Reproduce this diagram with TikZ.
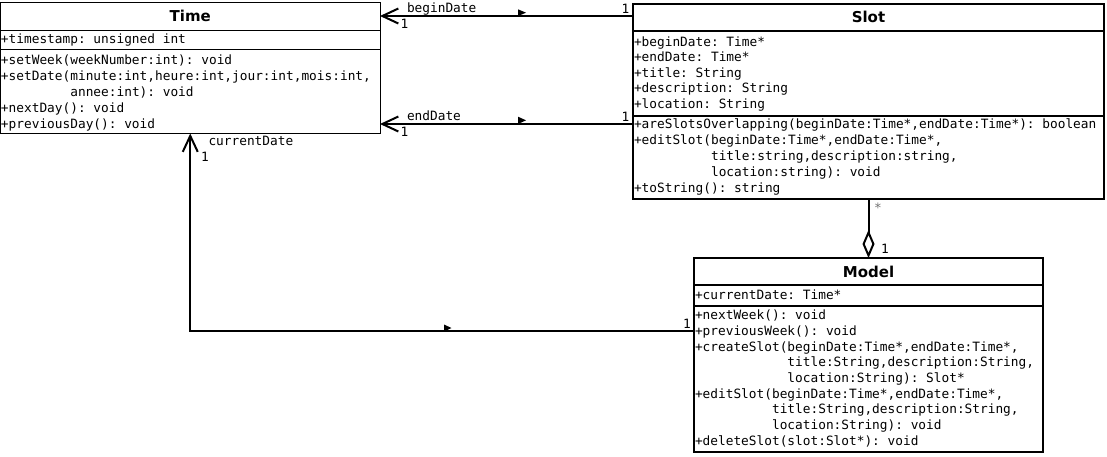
\documentclass[tikz,border=0pt]{standalone}
\usepackage{fontspec}
\setmonofont{DejaVu Sans Mono}
\newfontfamily\ttlfont{DejaVu Sans}
\usetikzlibrary{arrows.meta}
\begin{document}
\begin{tikzpicture}[x=1pt,y=-1pt,
  body/.style={anchor=base west, inner sep=0pt, outer sep=0pt, font=\ttfamily\fontsize{12.8}{15}\selectfont},
  ttl/.style={anchor=base, inner sep=0pt, outer sep=0pt, font=\ttlfont\bfseries\fontsize{15}{18}\selectfont},
  cls/.style={draw, anchor=north west, inner sep=0pt, outer sep=0pt},
  conn/.style={line width=2pt},
  sep/.style={line width=1pt},
  sepb/.style={line width=2pt},
  open tip/.style={-{Straight Barb[length=16pt,width=15pt]}},
  agg tip/.style={-{Diamond[open,length=28pt,width=12pt]}},
  dirmark/.style={fill=black}]
\useasboundingbox (0,0) rectangle (1107,456);
\fill[white] (0,0) rectangle (1107,456);

% ---------- Time ----------
\node[cls, line width=1pt, minimum width=379.5pt, minimum height=131pt] (time) at (0.5,2.5) {};
\draw[sep] (0.5,30) -- (380,30);
\draw[sep] (0.5,49) -- (380,49);
\node[ttl] (timeT) at (190.25,21) {Time};
\node[body] (time1) at (1,43) {+timestamp: unsigned int};
\node[body] (time2) at (1,64) {+setWeek(weekNumber:int): void};
\node[body] (time3) at (1,80) {+setDate(minute:int,heure:int,jour:int,mois:int,};
\node[body] (time4) at (1,96) {\hphantom{+setDate(}annee:int): void};
\node[body] (time5) at (1,112) {+nextDay(): void};
\node[body] (time6) at (1,128) {+previousDay(): void};

% ---------- Slot ----------
\node[cls, line width=2pt, minimum width=471pt, minimum height=195pt] (slot) at (633,3.5) {};
\draw[sepb] (633,31) -- (1104,31);
\draw[sepb] (633,116) -- (1104,116);
\node[ttl] (slotT) at (868.5,22) {Slot};
\node[body] (slot1) at (634,46) {+beginDate: Time*};
\node[body] (slot2) at (634,61.6) {+endDate: Time*};
\node[body] (slot3) at (634,77.2) {+title: String};
\node[body] (slot4) at (634,92.8) {+description: String};
\node[body] (slot5) at (634,108.4) {+location: String};
\node[body] (slot6) at (634,128) {+areSlotsOverlapping(beginDate:Time*,endDate:Time*): boolean};
\node[body] (slot7) at (634,144) {+editSlot(beginDate:Time*,endDate:Time*,};
\node[body] (slot8) at (634,160) {\hphantom{+editSlot(}title:string,description:string,};
\node[body] (slot9) at (634,176) {\hphantom{+editSlot(}location:string): void};
\node[body] (slot10) at (634,192) {+toString(): string};

% ---------- Model ----------
\node[cls, line width=2pt, minimum width=349pt, minimum height=194pt] (model) at (694,258) {};
\draw[sepb] (694,285) -- (1043,285);
\draw[sepb] (694,306) -- (1043,306);
\node[ttl] (modelT) at (868.5,277.5) {Model};
\node[body] (model1) at (695,299) {+currentDate: Time*};
\node[body] (model2) at (695,319) {+nextWeek(): void};
\node[body] (model3) at (695,335) {+previousWeek(): void};
\node[body] (model4) at (695,351) {+createSlot(beginDate:Time*,endDate:Time*,};
\node[body] (model5) at (695,366.7) {\hphantom{+createSlot(}title:String,description:String,};
\node[body] (model6) at (695,382.4) {\hphantom{+createSlot(}location:String): Slot*};
\node[body] (model7) at (695,398) {+editSlot(beginDate:Time*,endDate:Time*,};
\node[body] (model8) at (695,413.7) {\hphantom{+editSlot(}title:String,description:String,};
\node[body] (model9) at (695,429.4) {\hphantom{+editSlot(}location:String): void};
\node[body] (model10) at (695,445) {+deleteSlot(slot:Slot*): void};

% ---------- Connectors ----------
\draw[conn, open tip] (slot.west |- 0,16) -- (time.east |- 0,16);
\draw[conn, open tip] (slot.west |- 0,124) -- (time.east |- 0,124);
\draw[conn, open tip] (model.west |- 0,331) -| (time.south);
\draw[conn, agg tip] (slot.south) -- (model.north);

% reading-direction markers
\fill[dirmark] (518,9.3) -- (526,12.7) -- (518,16) -- cycle;
\fill[dirmark] (518,116.7) -- (526,120.3) -- (518,124) -- cycle;
\fill[dirmark] (444,324.5) -- (451.5,328) -- (444,331.5) -- cycle;

% ---------- Labels ----------
\node[body] (lbBegin) at (407,12.5) {beginDate};
\node[body] (lbBeginA) at (400.5,28) {1};
\node[body] (lbBeginB) at (621.5,13) {1};
\node[body] (lbEnd) at (407,120) {endDate};
\node[body] (lbEndA) at (400.5,136) {1};
\node[body] (lbEndB) at (621.5,121.5) {1};
\node[body] (lbCur) at (208.5,145.5) {currentDate};
\node[body] (lbCurA) at (201,161.5) {1};
\node[body] (lbCurB) at (683,328) {1};
\node[body, text=black!55] (lbAggA) at (874,212.5) {*};
\node[body] (lbAggB) at (881,253) {1};
\end{tikzpicture}
\end{document}
